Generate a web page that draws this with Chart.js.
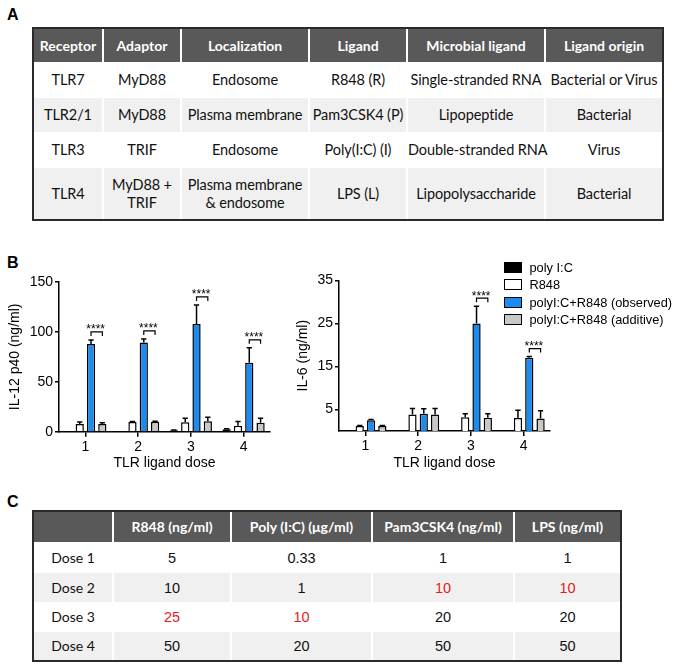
<!DOCTYPE html>
<html>
<head>
<meta charset="utf-8">
<script src="https://cdn.jsdelivr.net/npm/chart.js@4.4.0/dist/chart.umd.min.js"></script>
<style>
  body { margin: 0; width: 683px; height: 668px; position: relative; overflow: hidden; background: #fff;
         font-family: "Liberation Sans", Arial, sans-serif; }
  .panel { position: absolute; left: 7px; font: bold 16px/16px "Liberation Sans", Arial, sans-serif; color: #000; }
  table { position: absolute; border-collapse: separate; border-spacing: 0; border: 2px solid #2a2a2a;
          table-layout: fixed; font-family: Lato, sans-serif; font-size: 14px; color: #111; }
  th, td { box-sizing: border-box; padding: 0; text-align: center; border-right: 2px solid #fff;
           white-space: nowrap; line-height: 18px; }
  th { background: #595959; color: #fff; font-weight: bold; font-size: 14px; }
  #tableA td { font-size: 14.5px; letter-spacing: -0.1px; }
  tr > :last-child { border-right: none; }
  tbody tr:nth-child(even) td { background: #f0f0f0; }
  .num { font-family: "Liberation Sans", Arial, sans-serif; font-size: 14.5px; }
  .red { color: #e31b23; }
  canvas { position: absolute; }
  #legend { position: absolute; left: 504px; top: 258.5px; font-size: 12.8px; color: #000; }
  #legend div { height: 17.5px; display: flex; align-items: center; }
  #legend span.box { width: 18px; height: 11px; box-sizing: border-box; border: 1.5px solid #000; margin-right: 7.5px; }
</style>
</head>
<body>

<div class="panel" style="top:7px">A</div>
<table id="tableA" style="left:32px; top:27px; width:632px;">
  <thead>
    <tr style="height:33px">
      <th style="width:70px">Receptor</th>
      <th style="width:78px">Adaptor</th>
      <th style="width:128px">Localization</th>
      <th style="width:98px">Ligand</th>
      <th style="width:138px">Microbial ligand</th>
      <th style="width:116px">Ligand origin</th>
    </tr>
  </thead>
  <tbody>
    <tr style="height:36px"><td>TLR7</td><td>MyD88</td><td>Endosome</td><td>R848 (R)</td><td>Single-stranded RNA</td><td>Bacterial or Virus</td></tr>
    <tr style="height:34px"><td>TLR2/1</td><td>MyD88</td><td>Plasma membrane</td><td>Pam3CSK4 (P)</td><td>Lipopeptide</td><td>Bacterial</td></tr>
    <tr style="height:36px"><td>TLR3</td><td>TRIF</td><td>Endosome</td><td>Poly(I:C) (I)</td><td>Double-stranded RNA</td><td>Virus</td></tr>
    <tr style="height:51px"><td>TLR4</td><td>MyD88 +<br>TRIF</td><td>Plasma membrane<br>&amp; endosome</td><td>LPS (L)</td><td>Lipopolysaccharide</td><td>Bacterial</td></tr>
  </tbody>
</table>

<div class="panel" style="top:254.5px">B</div>
<canvas id="il12" width="290" height="206" style="left:0; top:270px;"></canvas>
<canvas id="il6" width="282" height="206" style="left:288px; top:270px;"></canvas>
<div id="legend"></div>

<div class="panel" style="top:494px">C</div>
<table style="left:32px; top:510px; width:590px;">
  <thead>
    <tr style="height:30px">
      <th style="width:80px"></th>
      <th style="width:118px">R848 (ng/ml)</th>
      <th style="width:141px">Poly (I:C) (μg/ml)</th>
      <th style="width:142px">Pam3CSK4 (ng/ml)</th>
      <th style="width:105px">LPS (ng/ml)</th>
    </tr>
  </thead>
  <tbody>
    <tr style="height:31px"><td>Dose 1</td><td class="num">5</td><td class="num">0.33</td><td class="num">1</td><td class="num">1</td></tr>
    <tr style="height:29px"><td>Dose 2</td><td class="num">10</td><td class="num">1</td><td class="num red">10</td><td class="num red">10</td></tr>
    <tr style="height:30px"><td>Dose 3</td><td class="num red">25</td><td class="num red">10</td><td class="num">20</td><td class="num">20</td></tr>
    <tr style="height:28px"><td>Dose 4</td><td class="num">50</td><td class="num">20</td><td class="num">50</td><td class="num">50</td></tr>
  </tbody>
</table>

<script>
// categories and series
const doses = ['1', '2', '3', '4'];
const seriesNames = ['poly I:C', 'R848', 'polyI:C+R848 (observed)', 'polyI:C+R848 (additive)'];
const seriesColors = ['#000000', '#ffffff', '#1a8cf0', '#c8c8c8'];

// IL-12 p40 (ng/ml), mean and upper error
const il12PolyIC = [0, 0.5, 1.5, 2.5];
const il12PolyICErr = [0, 0, 0.3, 0.5];
const il12R848 = [7.7, 9.7, 9.4, 6];
const il12R848Err = [2, 0.5, 4, 4.3];
const il12Observed = [88, 89.5, 108, 69];
const il12ObservedErr = [4, 3.5, 19, 15];
const il12Additive = [7.7, 10, 10.4, 9];
const il12AdditiveErr = [1.3, 0.5, 4, 4.4];
const il12Signif = [true, true, true, true];
const il12Ticks = [0, 50, 100, 150];

// IL-6 (ng/ml)
const il6PolyIC = [0, 0, 0, 0];
const il6PolyICErr = [0, 0, 0, 0];
const il6R848 = [1.15, 3.85, 3.2, 3];
const il6R848Err = [0.1, 1.4, 0.8, 1.8];
const il6Observed = [2.5, 4, 25, 17];
const il6ObservedErr = [0.15, 1.2, 4, 0.3];
const il6Additive = [1.15, 3.85, 3.1, 2.9];
const il6AdditiveErr = [0.1, 1.4, 0.9, 1.8];
const il6Signif = [false, false, true, true];
const il6Ticks = [5, 15, 25, 35];

Chart.defaults.font.family = '"Liberation Sans", Arial, sans-serif';
Chart.defaults.color = '#000';

// upper error bars with a cap
const errorBars = {
    id: 'errorBars',
    afterDatasetsDraw(chart) {
        const ctx = chart.ctx;
        const y = chart.scales.y;
        ctx.save();
        ctx.strokeStyle = '#000';
        ctx.lineWidth = 1.5;
        chart.data.datasets.forEach((ds, di) => {
            chart.getDatasetMeta(di).data.forEach((bar, i) => {
                const err = ds.errors[i];
                if (!err) return;
                const top = y.getPixelForValue(ds.data[i] + err);
                const half = bar.width * 0.32;
                ctx.beginPath();
                ctx.moveTo(bar.x, bar.y);
                ctx.lineTo(bar.x, top);
                ctx.moveTo(bar.x - half, top);
                ctx.lineTo(bar.x + half, top);
                ctx.stroke();
            });
        });
        ctx.restore();
    }
};

// **** brackets between observed and additive bars
const sigBrackets = {
    id: 'sigBrackets',
    afterDatasetsDraw(chart, args, opts) {
        const ctx = chart.ctx;
        const y = chart.scales.y;
        const obs = chart.data.datasets[2];
        const obsMeta = chart.getDatasetMeta(2);
        const addMeta = chart.getDatasetMeta(3);
        ctx.save();
        ctx.strokeStyle = '#000';
        ctx.fillStyle = '#000';
        ctx.lineWidth = 1.2;
        ctx.font = '12px "Liberation Sans", Arial, sans-serif';
        ctx.textAlign = 'center';
        ctx.textBaseline = 'alphabetic';
        opts.flags.forEach((on, i) => {
            if (!on) return;
            const x1 = obsMeta.data[i].x;
            const x2 = addMeta.data[i].x;
            const yb = y.getPixelForValue(obs.data[i] + obs.errors[i]) - 8;
            ctx.beginPath();
            ctx.moveTo(x1, yb + 4);
            ctx.lineTo(x1, yb);
            ctx.lineTo(x2, yb);
            ctx.lineTo(x2, yb + 4);
            ctx.stroke();
            ctx.fillText('****', (x1 + x2) / 2 - 1, yb + 1.5);
        });
        ctx.restore();
    }
};

function makeDatasets(values, errors) {
    return values.map((vals, k) => ({
        label: seriesNames[k],
        data: vals,
        errors: errors[k],
        backgroundColor: seriesColors[k],
        borderColor: '#000',
        borderWidth: 1.5,
        categoryPercentage: 0.857,
        barPercentage: 0.73
    }));
}

function makeChart(id, datasets, cfg) {
    return new Chart(document.getElementById(id), {
        type: 'bar',
        data: { labels: doses, datasets: datasets },
        plugins: [errorBars, sigBrackets],
        options: {
            responsive: false,
            animation: false,
            layout: { padding: { left: 2.6, top: cfg.padTop, right: 20, bottom: 0 } },
            plugins: {
                legend: { display: false },
                tooltip: { enabled: false },
                sigBrackets: { flags: cfg.signif }
            },
            scales: {
                x: {
                    grid: { drawOnChartArea: false, offset: false, tickLength: 5, color: '#000', lineWidth: 1.5 },
                    border: { color: '#000', width: 1.5 },
                    ticks: { color: '#000', font: { size: 14 }, padding: 2 },
                    title: { display: true, text: 'TLR ligand dose', color: '#000', font: { size: 14 }, padding: { top: 4, bottom: 4 } },
                    afterFit: s => { s.height = cfg.xHeight; }
                },
                y: {
                    min: 0,
                    max: cfg.max,
                    afterBuildTicks: s => { s.ticks = cfg.ticks.map(v => ({ value: v })); },
                    grid: { drawOnChartArea: false, tickLength: 4, color: '#000', lineWidth: 1.5 },
                    border: { color: '#000', width: 1.5 },
                    ticks: { color: '#000', font: { size: 14 }, padding: 2 },
                    title: { display: true, text: cfg.title, color: '#000', font: { size: 14 }, padding: { top: 4, bottom: 4 } },
                    afterFit: s => { s.width = cfg.yWidth; }
                }
            }
        }
    });
}

makeChart('il12',
    makeDatasets([il12PolyIC, il12R848, il12Observed, il12Additive],
                 [il12PolyICErr, il12R848Err, il12ObservedErr, il12AdditiveErr]),
    { title: 'IL-12 p40 (ng/ml)', max: 150, ticks: il12Ticks, signif: il12Signif, padTop: 12, xHeight: 44.3, yWidth: 56.4 });

makeChart('il6',
    makeDatasets([il6PolyIC, il6R848, il6Observed, il6Additive],
                 [il6PolyICErr, il6R848Err, il6ObservedErr, il6AdditiveErr]),
    { title: 'IL-6 (ng/ml)', max: 35, ticks: il6Ticks, signif: il6Signif, padTop: 9.3, xHeight: 45, yWidth: 48.4 });

// legend shared by both panels
const legend = document.getElementById('legend');
seriesNames.forEach((name, k) => {
    const row = document.createElement('div');
    row.innerHTML = '<span class="box" style="background:' + seriesColors[k] + '"></span>' + name;
    legend.appendChild(row);
});
</script>
</body>
</html>
